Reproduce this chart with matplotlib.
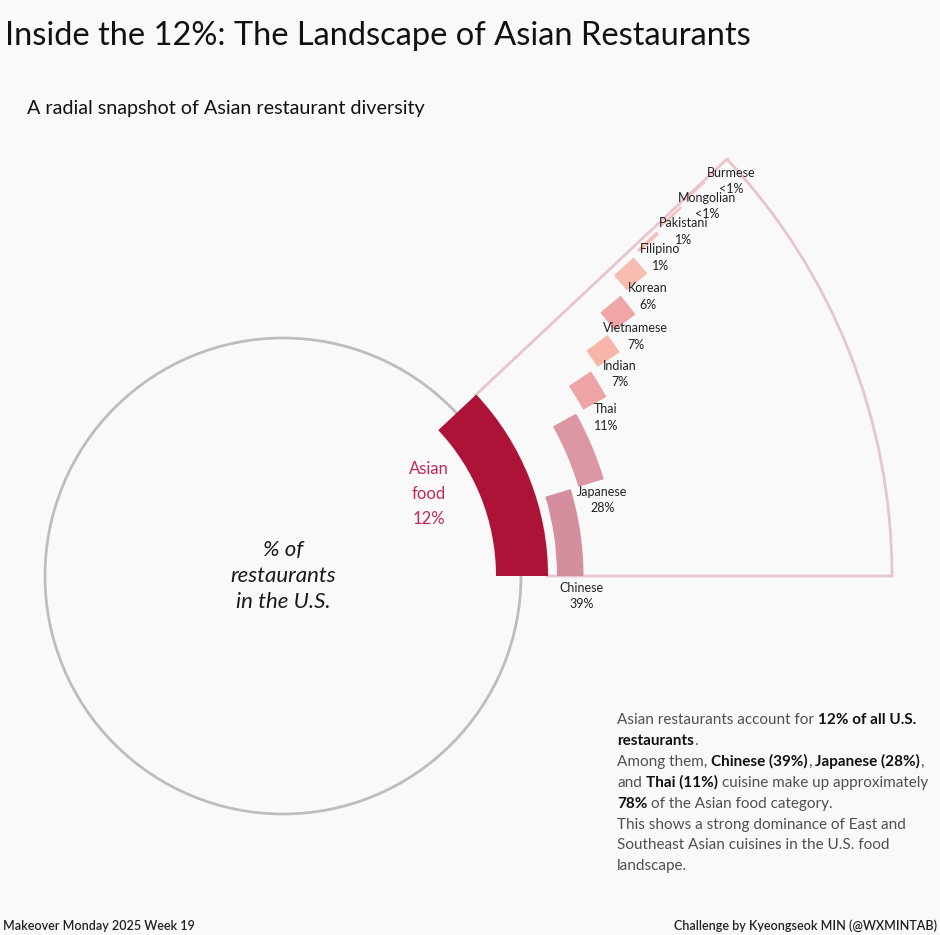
"""
Inside the 12%: radial snapshot of Asian restaurant shares (Makeover Monday 2025 W19).
"""

import numpy as np
import matplotlib
matplotlib.use('Agg')
import matplotlib.pyplot as plt
from matplotlib.patches import Wedge, Circle

# --- Data ---
asian_share = 12.0  # % of all U.S. restaurants
cuisines = ['Chinese', 'Japanese', 'Thai', 'Indian', 'Vietnamese', 'Korean',
            'Filipino', 'Pakistani', 'Mongolian', 'Burmese']
shares = [38.9, 28.2, 10.7, 6.9, 7.2, 5.9, 1.0, 0.6, 0.4, 0.2]   # % of Asian
share_labels = ['39%', '28%', '11%', '7%', '7%', '6%', '1%', '1%', '<1%', '<1%']
bar_colors = ['#D58E9E', '#DD96A4', '#EEA3A7', '#F7B5AB', '#F0A6A7', '#F8BBAF',
              '#F8BDB2', '#F8BFB4', '#F9C2B7', '#F9C4B9']

# --- Style ---
BG = '#F9F9F9'
DARK = '#AD1237'
ASIAN_TXT = '#C22A50'
OUTLINE = '#E8C5CD'
CIRCLE = '#BDBDBD'
TXT = '#222222'
FONT = 'Lato'

W, H = 940, 935
fig = plt.figure(figsize=(W / 100, H / 100), dpi=100)
fig.patch.set_facecolor(BG)
ax = fig.add_axes([0, 0, 1, 1])
ax.set_facecolor(BG)
ax.set_xlim(0, W)
ax.set_ylim(0, H)
ax.axis('off')


def Y(py):
    """pixel row (from top) -> data y"""
    return H - py


CX, CY = 283, Y(576)
R_CIRCLE = 238
R_ASIAN = (213, 265)
R_OUTER = 609
R0, PITCH, THICK = 274, 34.6, 26.5

span = asian_share / 100 * 360  # 43.2 degrees

# full-restaurant circle
ax.add_patch(Circle((CX, CY), R_CIRCLE, fill=False, edgecolor=CIRCLE, lw=2, zorder=2))

# zoomed sector outline
ax.add_patch(Wedge((CX, CY), R_OUTER, 0, span, width=R_OUTER - R_ASIAN[1] + 1,
                   fill=False, edgecolor=OUTLINE, lw=2, zorder=1))

# Asian food wedge
ax.add_patch(Wedge((CX, CY), R_ASIAN[1], 0, span, width=R_ASIAN[1] - R_ASIAN[0],
                   facecolor=DARK, edgecolor='none', zorder=3))

# cuisine arcs, stacked by cumulative share at growing radius
cum = np.concatenate([[0], np.cumsum(shares)])
for i, name in enumerate(cuisines):
    a0 = cum[i] / 100 * span
    a1 = cum[i + 1] / 100 * span
    r_in = R0 + PITCH * i
    ax.add_patch(Wedge((CX, CY), r_in + THICK, a0, a1, width=THICK,
                       facecolor=bar_colors[i], edgecolor='none', zorder=3))
    rc = r_in + THICK / 2
    px = CX + rc * np.cos(np.radians(a0))
    py = CY + rc * np.sin(np.radians(a0))
    dy = max(0.0, 6 - 0.2 * a0)   # labels near the baseline sit a bit lower
    ax.annotate(f'{name}\n{share_labels[i]}', (px, py), xytext=(11, -dy),
                textcoords='offset pixels', ha='center', va='top',
                fontsize=9, color=TXT, family=FONT, linespacing=1.45,
                zorder=5)

# centre texts
ax.text(CX, CY, '% of\nrestaurants\nin the U.S.', ha='center', va='center',
        fontsize=16, style='italic', color='#1a1a1a', family=FONT,
        linespacing=1.4)
ax.text(429, Y(494), 'Asian\nfood\n12%', ha='center', va='center',
        fontsize=12, color=ASIAN_TXT, family=FONT, linespacing=1.7)

# titles
ax.text(5, Y(45), 'Inside the 12%: The Landscape of Asian Restaurants',
        fontsize=23.5, color='#111111', family=FONT, va='baseline')
ax.text(27, Y(114), 'A radial snapshot of Asian restaurant diversity',
        fontsize=14.2, color='#111111', family=FONT, va='baseline')

# footers
ax.text(3, Y(930), 'Makeover Monday 2025 Week 19', fontsize=9, color='#222222',
        family=FONT, fontweight='semibold', va='baseline')
ax.text(937, Y(930), 'Challenge by Kyeongseok MIN (@WXMINTAB)', fontsize=9,
        color='#222222', family=FONT, fontweight='semibold', va='baseline',
        ha='right')

# --- rich-text annotation block ---
renderer = fig.canvas.get_renderer()
para = [
    [('Asian restaurants account for', False), (' 12% of all U.S.', True)],
    [('restaurants', True), ('.', False)],
    [('Among them,', False), (' Chinese (39%)', True), (',', False),
     (' Japanese (28%)', True), (',', False)],
    [('and', False), (' Thai (11%)', True), (' cuisine make up approximately', False)],
    [('78%', True), (' of the Asian food category.', False)],
    [('This shows a strong dominance of East and', False)],
    [('Southeast Asian cuisines in the U.S. food', False)],
    [('landscape.', False)],
]
PFS = 11


def text_w(s, bold):
    t = ax.text(0, 0, s, fontsize=PFS, family=FONT,
                fontweight='bold' if bold else 'normal')
    w = t.get_window_extent(renderer).width
    t.remove()
    return w


space_w = text_w('a a', False) - text_w('aa', False)

y0, lh = Y(724), 20.9
for k, line in enumerate(para):
    x = 617
    for s, bold in line:
        if s.startswith(' '):
            x += space_w
            s = s[1:]
        t = ax.text(x, y0 - k * lh, s, fontsize=PFS, family=FONT, va='baseline',
                    color='#111111' if bold else '#505050',
                    fontweight='bold' if bold else 'normal')
        x += t.get_window_extent(renderer).width

fig.savefig('out.png', dpi=100, facecolor=BG)
plt.close(fig)
